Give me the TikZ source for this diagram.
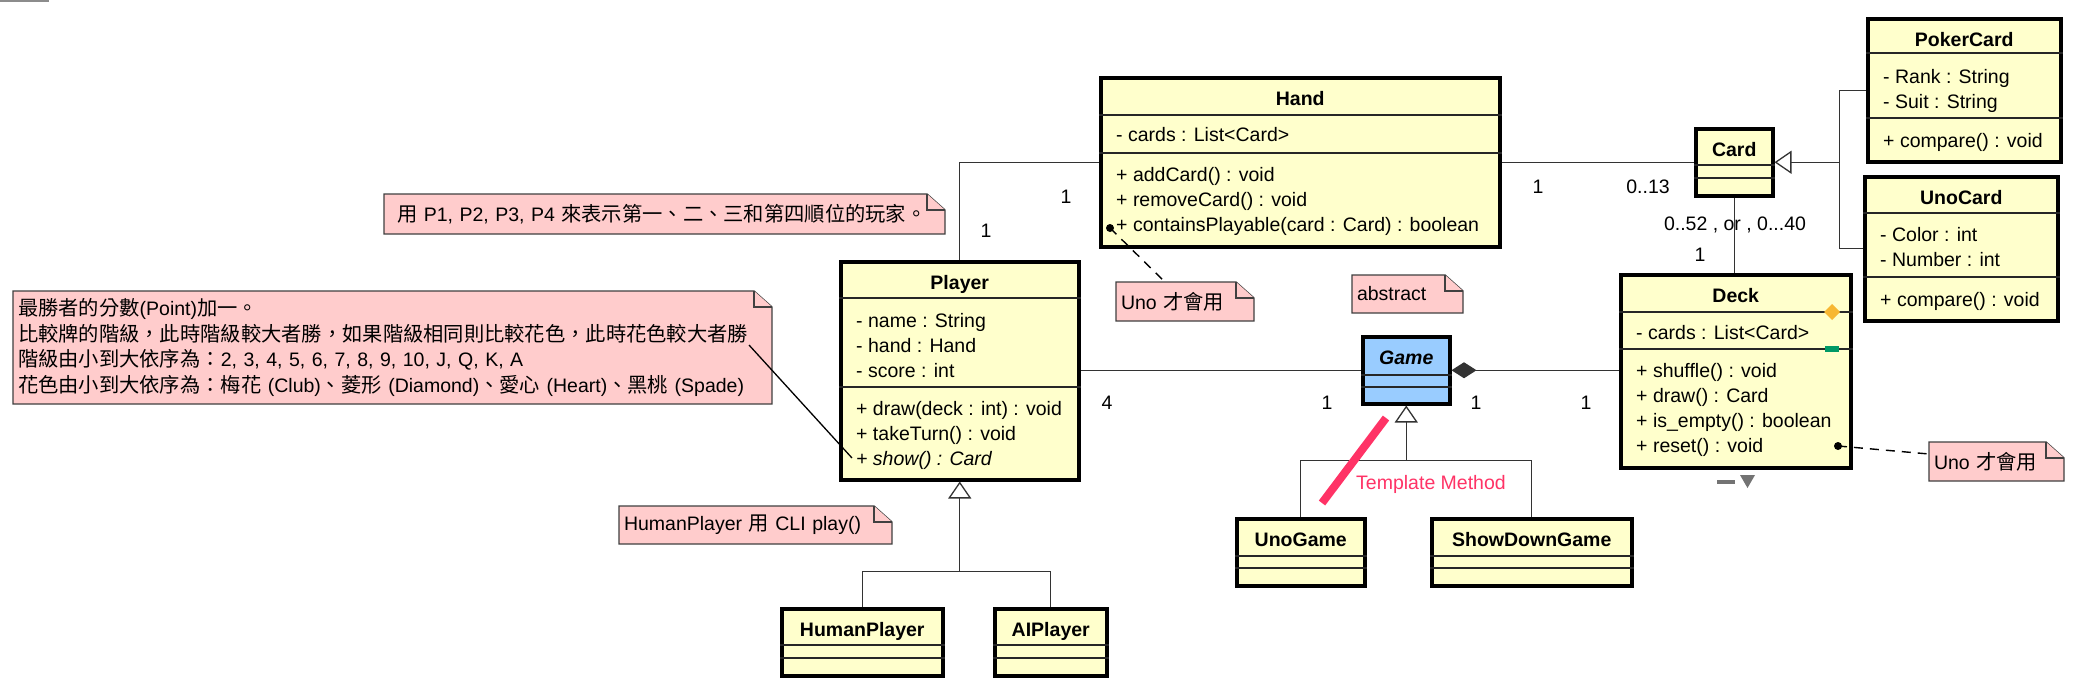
\documentclass[tikz,border=0pt]{standalone}
\usepackage{fontspec}
\setmainfont{Liberation Sans}
\newfontfamily\cjk[Scale=1.04]{Noto Sans CJK TC}
\usetikzlibrary{arrows.meta,positioning}

\definecolor{clsbg}{HTML}{FFFFCC}
\definecolor{absbg}{HTML}{99CCFF}
\definecolor{notebg}{HTML}{FFCCCC}
\definecolor{notebd}{HTML}{404040}
\definecolor{tmplred}{HTML}{FF3366}
\definecolor{linegray}{HTML}{333333}
\definecolor{markorange}{HTML}{F7B733}
\definecolor{markgreen}{HTML}{009966}

\newcommand{\umlfont}{\fontsize{19.5}{25.5}\selectfont}
\newcommand{\zh}[1]{{\cjk #1}}

% class box: [fill]{name}{x}{y}{w}{h}{title}{sep1}{sep2}
\newcommand{\umlclass}[9][clsbg]{%
  \node[cls, fill=#1, minimum width=#5, minimum height=#6] (#2) at (#3,#4) {};
  \draw[sep] ([yshift=-#8]#2.north west) -- ([yshift=-#8]#2.north east);
  \draw[sep] ([yshift=-#9]#2.north west) -- ([yshift=-#9]#2.north east);
  \node[ttl] (#2-ttl) at ([yshift=-29]#2.north) {#7};
}
% member lines: {class}{first baseline}{list}
\newcommand{\members}[3]{%
  \foreach \m [count=\i from 0] in {#3} {
    \pgfmathsetmacro\yy{#2+25*\i}
    \node[mem] (#1-\i-#2) at ([xshift=17,yshift=-\yy]#1.north west) {\m};
  }
}
% note: {name}{x}{y}{w}{h}{text}
\newcommand{\umlnote}[6]{%
  \filldraw[note] (#2,#3) -- (#2+#4-18,#3) -- (#2+#4,#3+16) -- (#2+#4,#3+#5) -- (#2,#3+#5) -- cycle;
  \draw[note] (#2+#4-18,#3) -- (#2+#4-18,#3+16) -- (#2+#4,#3+16);
  \pgfmathsetmacro\tw{#4-10}
  \node[notetxt, minimum width=#4, minimum height=#5, text width=\tw pt] (#1) at (#2,#3) {#6};
}

\begin{document}
\umlfont
\begin{tikzpicture}[
  x=1pt, y=-1pt,
  font=\umlfont,
  cls/.style={draw, line width=3.5pt, anchor=north west, inner sep=0pt},
  sep/.style={draw=black!85, line width=1.2pt},
  ttl/.style={anchor=base, inner sep=0pt, font=\umlfont\bfseries},
  mem/.style={anchor=base west, inner sep=0pt},
  note/.style={draw=notebd, fill=notebg, line width=1.4pt},
  notetxt/.style={anchor=north west, inner xsep=5pt, inner ysep=0pt, outer sep=0pt, align=left},
  assoc/.style={draw=linegray, line width=1.3pt},
  inh/.style={assoc, -{Triangle[open, length=17pt, width=23pt]}},
  comp/.style={assoc, {Diamond[length=25pt, width=16pt]}-},
  mult/.style={inner sep=0pt},
  dashln/.style={draw=black, line width=1.4pt, dash pattern=on 9pt off 7pt},
  tmplstroke/.style={draw=tmplred, line width=8pt},
  tmpltxt/.style={inner sep=0pt, text=tmplred}
]
\fill[white] (0,0) rectangle (2097,686);
\useasboundingbox (0,0) rectangle (2097,686);
\fill[black!45] (0,0) rectangle (49,2);

% classes
\umlclass{hand}{1099}{76}{399}{169}{Hand}{39}{77}
\members{hand}{65}{{- cards : List<Card>}}
\members{hand}{105}{{+ addCard() : void},{+ removeCard() : void},{+ containsPlayable(card : Card) : boolean}}

\umlclass{player}{839}{260}{238}{218}{Player}{38}{127}
\members{player}{67}{{- name : String},{- hand : Hand},{- score : int}}
\members{player}{155}{{+ draw(deck : int) : void},{+ takeTurn() : void},{\itshape + show() : Card}}

\umlclass{card}{1694}{127}{77}{67}{Card}{38}{51}
\umlclass{poker}{1866}{17}{193}{143}{PokerCard}{36}{101}
\members{poker}{66}{{- Rank : String},{- Suit : String}}
\members{poker}{130}{{+ compare() : void}}
\umlclass{unocard}{1863}{175}{193}{144}{UnoCard}{38}{102}
\members{unocard}{66}{{- Color : int},{- Number : int}}
\members{unocard}{131}{{+ compare() : void}}

\umlclass{deck}{1619}{273}{230}{193}{Deck}{39}{76}
\members{deck}{66}{{- cards : List<Card>}}
\members{deck}{104}{{+ shuffle() : void},{+ draw() : Card},{+ is\_empty() : boolean},{+ reset() : void}}

\umlclass[absbg]{game}{1361}{335}{87}{67}{\itshape Game}{40}{52}
\umlclass{unogame}{1235}{517}{128}{67}{UnoGame}{39}{51}
\umlclass{showdown}{1430}{517}{200}{67}{ShowDownGame}{39}{51}
\umlclass{human}{780}{607}{161}{67}{HumanPlayer}{38}{51}
\umlclass{ai}{993}{607}{112}{67}{AIPlayer}{38}{51}

% notes
\umlnote{np}{384}{194}{561}{40}{\hspace*{8pt}\zh{用} P1, P2, P3, P4 \zh{來表示第一、二、三和第四順位的玩家。}}
\umlnote{nrule}{13}{291}{759}{113}{\zh{最勝者的分數}(Point)\zh{加一。}\\
  \zh{比較牌的階級，此時階級較大者勝，如果階級相同則比較花色，此時花色較大者勝}\\
  \zh{階級由小到大依序為：}2, 3, 4, 5, 6, 7, 8, 9, 10, J, Q, K, A\\
  \zh{花色由小到大依序為：梅花} (Club)\zh{、菱形} (Diamond)\zh{、愛心} (Heart)\zh{、黑桃} (Spade)}
\umlnote{nuno1}{1116}{282}{138}{39}{Uno \zh{才會用}}
\umlnote{nabs}{1352}{275}{111}{38}{abstract}
\umlnote{nuno2}{1929}{442}{135}{39}{Uno \zh{才會用}}
\umlnote{nhuman}{619}{506}{273}{38}{HumanPlayer \zh{用} CLI play()}

% associations
\draw[assoc] (hand.west) -| (player.north);
\draw[assoc] (hand.east) -- (hand.east -| card.west);
\draw[assoc] (card.south) -- (card.south |- deck.north);
\draw[assoc] (player.east) -- (player.east -| game.west);
\draw[comp] (game.east) -- (game.east -| deck.west);

% generalizations
\coordinate (pj) at ([yshift=-90]player.south);
\draw[assoc] (human.north) |- (pj) -| (ai.north);
\draw[inh] (pj) -- (player.south);
\coordinate (gj) at ([yshift=-55]game.south);
\draw[assoc] (unogame.north) |- (gj) -| (showdown.north);
\draw[inh] (gj) -- (game.south);
\coordinate (cj) at ([xshift=65]card.east);
\draw[assoc] (poker.west) -| (cj) |- (unocard.west);
\draw[inh] (cj) -- (card.east);

% multiplicities
\node[mult] (mh1) at (1066,197) {1};
\node[mult] (mp1) at (986,231) {1};
\node[mult] (mhc1) at (1538,187) {1};
\node[mult] (mc13) at (1648,187) {0..13};
\node[mult] (mc52) at (1735,225) {0..52 , or , 0...40};
\node[mult] (md1) at (1700,255) {1};
\node[mult] (mp4) at (1107,403) {4};
\node[mult] (mg1) at (1327,403) {1};
\node[mult] (mg2) at (1476,403) {1};
\node[mult] (md2) at (1586,403) {1};

% note links
\coordinate (hdot) at (1110,228);
\fill (hdot) circle (4);
\draw[dashln] (hdot) -- ([xshift=49]nuno1.north west);
\coordinate (ddot) at (1838,446);
\fill (ddot) circle (4);
\draw[dashln] (ddot) -- ([yshift=-12]nuno2.north west);
\coordinate (showm) at (852,458);
\draw[assoc, draw=black] ([xshift=-23,yshift=-54]nrule.north east) -- (showm);

% deck marks
\fill[markorange] (1824,312) -- (1832,304) -- (1840,312) -- (1832,320) -- cycle;
\fill[markgreen] (1825,346) rectangle (1839,352);
\fill[black!55] (1717,480) rectangle (1735,484);
\fill[black!55] (1740,475) -- (1755,475) -- (1747.5,488) -- cycle;

% template method
\draw[tmplstroke] (1386,418) -- (1322,503);
\node[tmpltxt] (tmlabel) at (1431,484) {Template Method};
\end{tikzpicture}
\end{document}
